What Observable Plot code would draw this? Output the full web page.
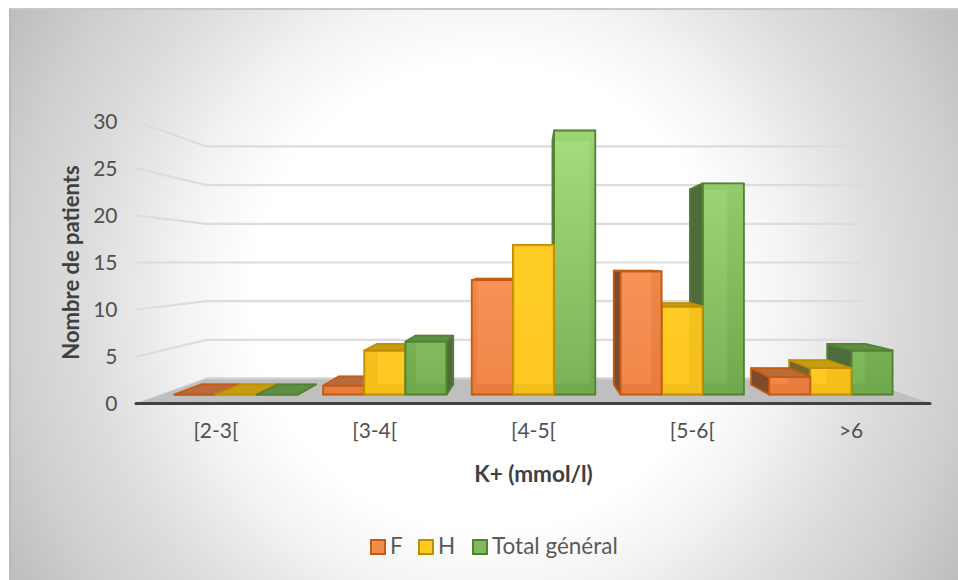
<!DOCTYPE html>
<html lang="fr">
<head>
<meta charset="utf-8">
<script src="https://cdn.jsdelivr.net/npm/d3@7"></script>
<script src="https://cdn.jsdelivr.net/npm/@observablehq/plot@0.6"></script>
<style>
  html, body { margin: 0; padding: 0; background: #fff; }
  #chart-area {
    position: relative; width: 958px; height: 580px; overflow: hidden;
    font-family: Lato, "Open Sans", sans-serif;
  }
  #panel {
    position: absolute; left: 9px; top: 8px; width: 949px; height: 572px;
    background: radial-gradient(circle farthest-corner at 475px 286px, #ffffff 0%, #ffffff 42%, #f3f3f3 55%, #dedede 71%, #cfcfcf 86%, #bdbdbd 100%);
    border-top: 2px solid #c8c8c8; border-left: 2px solid #bababa; box-sizing: border-box;
  }
  #plot { position: absolute; left: 0; top: 0; }
  #plot svg { background: transparent; overflow: visible; }
  #legend { position: absolute; top: 533px; left: 0; height: 26px; width: 958px; color: #595959; font-size: 22.5px; line-height: 26px; }
  #legend span { position: absolute; white-space: nowrap; }
  #legend i { position: absolute; top: 6px; width: 12px; height: 12px; border: 2px solid; }
</style>
</head>
<body>
<div id="chart-area">
  <div id="panel"></div>
  <div id="plot"></div>
  <div id="legend"></div>
</div>
<script>
// Potassium classes and patient counts
const categories = ["[2-3[", "[3-4[", "[4-5[", "[5-6[", ">6"];
const countF = [0, 1, 13, 14, 2];
const countH = [0, 5, 17, 10, 3];
const countTotal = [0, 6, 30, 24, 5];
const valueTicks = [0, 5, 10, 15, 20, 25, 30];

const seriesNames = ["F", "H", "Total général"];
const seriesCounts = [countF, countH, countTotal];

// Per-series palette for the faces of each box
const palette = [
  {front: "url(#grad-f)", back: "#fa9a5e", edge: "#c55a11", inner: "#d2641f", top: "#b96b3c", side: "#7c4a2c", swatch: "#f08c4e"},
  {front: "url(#grad-h)", back: "#ffcd25", edge: "#bf9000", inner: "#c89a00", top: "#c79c12", side: "#6f6a2c", swatch: "#ffc926"},
  {front: "url(#grad-t)", back: "#90c86c", edge: "#548235", inner: "#5f9a3c", top: "#5c8f44", side: "#4e6b3c", swatch: "#80b85e"}
];

// One-point perspective: depth ratio shrinks x and value towards the vanishing point
const vanishX = 2.5;
const vanishV = 15;
const depthFloorBack = 0.823;
const depthBarFront = 0.936;
const depthBarBack = 0.865;
const barGap = 0.0845;
const barWidth = 0.277;

const project = (x, v, s) => ({x: vanishX + (x - vanishX) * s, y: vanishV + (v - vanishV) * s});

// Gridlines: a slanted stretch on the left wall, then along the back wall
const gridRows = valueTicks.flatMap(v => [
  {...project(0, v, 1), v},
  {...project(0, v, depthFloorBack), v},
  {...project(5, v, depthFloorBack), v}
]);

const floorRows = [
  project(0, 0, 1), project(5, 0, 1),
  project(5, 0, depthFloorBack), project(0, 0, depthFloorBack), project(0, 0, 1)
];

// Each box is six quads; nearer the vanishing axis means painted later
const bars = [];
categories.forEach((c, ci) => seriesCounts.forEach((vals, si) => {
  const x0 = ci + barGap + si * barWidth;
  bars.push({ci, si, x0, x1: x0 + barWidth, v: vals[ci]});
}));
bars.sort((a, b) =>
  Math.abs((b.x0 + b.x1) / 2 - vanishX) - Math.abs((a.x0 + a.x1) / 2 - vanishX));

const faceRows = [];
let faceId = 0;
function addFace(corners, fill, stroke, fillOpacity, strokeOpacity) {
  const z = faceId++;
  [...corners, corners[0]].forEach(p => faceRows.push({...p, z, fill, stroke, fillOpacity, strokeOpacity}));
}
for (const {si, x0, x1, v} of bars) {
  const pal = palette[si];
  const F = depthBarFront, B = depthBarBack;
  const back = [project(x0, 0, B), project(x1, 0, B), project(x1, v, B), project(x0, v, B)];
  const front = [project(x0, 0, F), project(x1, 0, F), project(x1, v, F), project(x0, v, F)];
  const bottom = [project(x0, 0, F), project(x1, 0, F), project(x1, 0, B), project(x0, 0, B)];
  const top = [project(x0, v, F), project(x1, v, F), project(x1, v, B), project(x0, v, B)];
  const left = [project(x0, 0, F), project(x0, v, F), project(x0, v, B), project(x0, 0, B)];
  const right = [project(x1, 0, F), project(x1, v, F), project(x1, v, B), project(x1, 0, B)];
  const leftOut = x0 > vanishX, rightOut = x1 < vanishX, topOut = v <= vanishV;

  addFace(back, pal.back, pal.edge, 1, 0.3);
  addFace(bottom, pal.inner, pal.edge, 1, 0.3);
  if (!leftOut) addFace(left, pal.inner, pal.edge, 1, 0.3);
  if (!rightOut) addFace(right, pal.inner, pal.edge, 1, 0.3);
  if (!topOut) addFace(top, pal.inner, pal.edge, 1, 0.3);
  addFace(front, pal.front, pal.edge, 0.8, 1);
  if (leftOut) addFace(left, pal.side, pal.edge, 1, 1);
  if (rightOut) addFace(right, pal.side, pal.edge, 1, 1);
  if (topOut) addFace(top, pal.top, pal.edge, 1, 1);
}

// Vertical shading shared by all front faces
function gradients() {
  const defs = d3.create("svg:defs");
  [["grad-f", "#ffa064", "#ee8244"], ["grad-h", "#ffcf2a", "#ffc822"], ["grad-t", "#abe282", "#74ac50"]]
    .forEach(([id, a, b]) => {
      const g = defs.append("linearGradient").attr("id", id)
        .attr("gradientUnits", "userSpaceOnUse")
        .attr("x1", 0).attr("x2", 0).attr("y1", 130).attr("y2", 394);
      g.append("stop").attr("offset", 0).attr("stop-color", a);
      g.append("stop").attr("offset", 1).attr("stop-color", b);
    });
  return defs.node();
}

const chart = Plot.plot({
  width: 958,
  height: 580,
  marginLeft: 136,
  marginRight: 28,
  marginTop: 121,
  marginBottom: 177,
  style: {fontFamily: "Lato, 'Open Sans', sans-serif", background: "transparent"},
  x: {type: "linear", domain: [0, 5]},
  y: {type: "linear", domain: [0, 30]},
  marks: [
    gradients,
    Plot.line(gridRows, {x: "x", y: "y", z: "v", stroke: "#dcdcdc", strokeWidth: 2.2}),
    Plot.line(floorRows, {x: "x", y: "y", fill: "#bfbfbf", stroke: "none"}),
    Plot.line(gridRows.filter(d => d.v === 0).slice(1), {x: "x", y: "y", stroke: "#d2d2d2", strokeWidth: 2}),
    Plot.line(faceRows, {
      x: "x", y: "y", z: "z",
      fill: {value: "fill", scale: null},
      stroke: {value: "stroke", scale: null},
      fillOpacity: {value: "fillOpacity", scale: null},
      strokeOpacity: {value: "strokeOpacity", scale: null},
      strokeWidth: 1.8,
      strokeLinejoin: "round"
    }),
    Plot.ruleY([0], {x1: 0, x2: 5, stroke: "#404040", strokeWidth: 3, strokeLinecap: "round"}),
    Plot.axisY({
      ticks: valueTicks, tickSize: 0, tickPadding: 19, label: null, dy: 1,
      fontSize: 21, color: "#505050"
    }),
    Plot.axisX({
      ticks: categories.map((_, i) => i + 0.5),
      tickFormat: t => categories[Math.floor(t)],
      tickSize: 0, tickPadding: 20, label: null,
      fontSize: 21, color: "#505050"
    }),
    Plot.text(["Nombre de patients"], {
      frameAnchor: "left", dx: -65, rotate: -90, textAnchor: "middle",
      fontSize: 22, fontWeight: "bold", fill: "#404040"
    }),
    Plot.text(["K+ (mmol/l)"], {
      frameAnchor: "bottom", dy: 78,
      fontSize: 22.5, fontWeight: "bold", fill: "#404040"
    })
  ]
});
document.getElementById("plot").appendChild(chart);

// Legend under the plot
const legendOffsets = [370, 418, 472];
const legend = document.getElementById("legend");
seriesNames.forEach((name, i) => {
  const sw = document.createElement("i");
  sw.style.left = legendOffsets[i] + "px";
  sw.style.background = palette[i].swatch;
  sw.style.borderColor = palette[i].edge;
  legend.appendChild(sw);
  const label = document.createElement("span");
  label.style.left = legendOffsets[i] + 20 + "px";
  label.textContent = name;
  legend.appendChild(label);
});
</script>
</body>
</html>
